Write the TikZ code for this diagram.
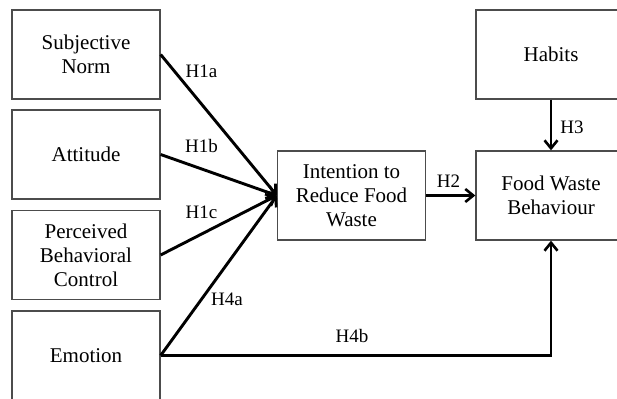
\documentclass[tikz,border=0pt]{standalone}
\usepackage{fontspec}
\setmainfont{Liberation Serif}
\usetikzlibrary{
  arrows.meta,
  positioning
}

\begin{document}
\begin{tikzpicture}[
      x=1pt,y=-1pt,
      construct/.style={
         rectangle,
         minimum width=148pt,
         minimum height=89pt,
         draw=black!70,
         line width=1.3pt,
         align=center,
         font=\fontsize{21}{24}\selectfont
      },
      hypo/.style={
         inner sep=0pt,
         font=\fontsize{19}{22}\selectfont
      },
      >={Straight Barb[length=8pt,width=13pt,line width=2.6pt]},
      tip/.style={->,line width=2.9pt},
      hv path/.style={to path={-| (\tikztotarget)}}
    ]
    \useasboundingbox (0,0) rectangle (617,398);
    \clip (0,0) rectangle (617,398);
    % predictors
    \node (sn)  [construct] at (86,54.5)  {Subjective\\Norm};
    \node (att) [construct] at (86,154.5) {Attitude};
    \node (pbc) [construct] at (86,255)   {Perceived\\Behavioral\\Control};
    \node (emo) [construct] at (86,355.5) {Emotion};
    % intention and outcome
    \node (int) [construct] at (351.5,195.5) {Intention to\\Reduce Food\\Waste};
    \node (hab) [construct, minimum width=150pt] at (551,54.5)  {Habits};
    \node (fwb) [construct, minimum width=150pt] at (551,195.5) {Food Waste\\Behaviour};
    % paths
    \draw[tip] (sn.east)  -- (int.west);
    \draw[tip] (att.east) -- (int.west);
    \draw[tip] (pbc.east) -- (int.west);
    \draw[tip] (emo.east) -- (int.west);
    \draw[tip] (int.east) -- (fwb.west);
    \draw[tip] (hab.south) -- (fwb.north);
    \draw[tip] (emo.east) to[hv path] (fwb.south);
    % hypotheses
    \node (h1a) [hypo] at (201.5,71)  {H1a};
    \node (h1b) [hypo] at (201.5,146) {H1b};
    \node (h1c) [hypo] at (201.5,212.5) {H1c};
    \node (h4a) [hypo] at (227,299)   {H4a};
    \node (h4b) [hypo] at (352,336)   {H4b};
    \node (h2)  [hypo] at (448.5,181) {H2};
    \node (h3)  [hypo] at (572,127)   {H3};
\end{tikzpicture}
\end{document}
